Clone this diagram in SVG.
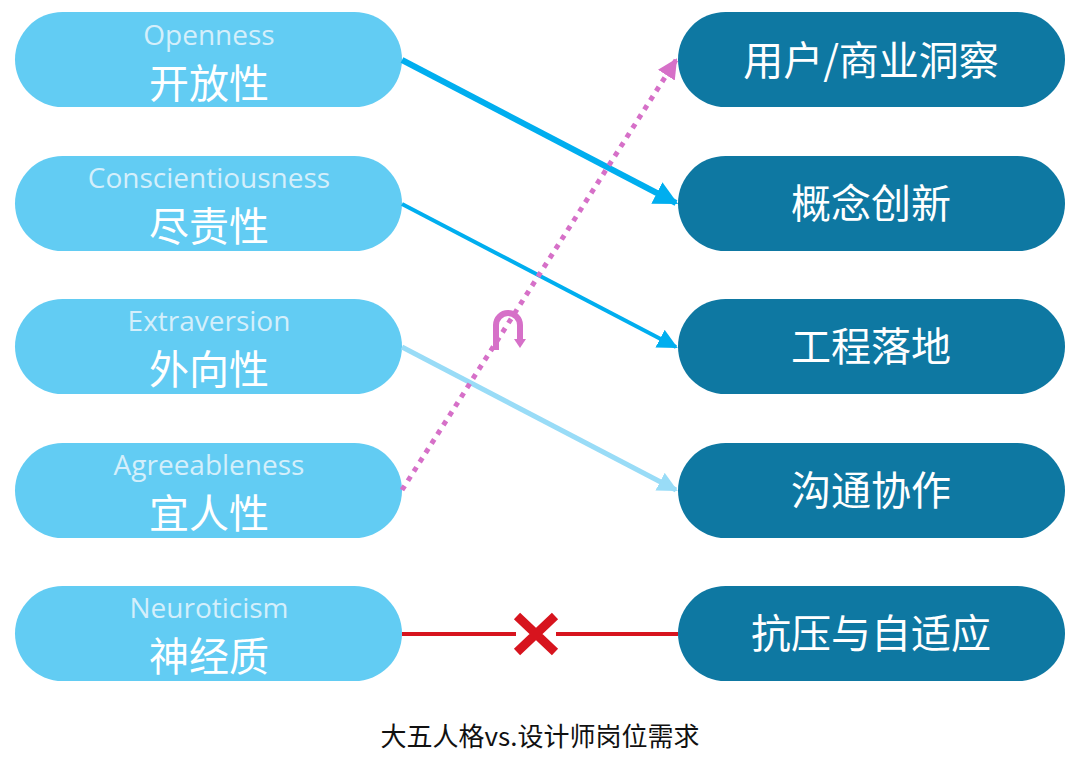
<svg xmlns="http://www.w3.org/2000/svg" width="1080" height="772" viewBox="0 0 1080 772">
<style>
.l{fill:#62ccf3}.r{fill:#0e78a2}
.en{font-family:"Open Sans","Liberation Sans",sans-serif;font-size:28px;fill:#d4effb;text-anchor:middle}
.zh{font-family:"Noto Sans CJK SC",sans-serif;font-size:40px;fill:#fff;text-anchor:middle}
</style>
<defs>
<marker id="a1" viewBox="0 0 10 10" refX="9" refY="5" markerWidth="4" markerHeight="4" orient="auto" markerUnits="strokeWidth"><path d="M0,0L10,5L0,10z" fill="#00aeef"/></marker>
<marker id="a2" viewBox="0 0 10 10" refX="9" refY="5" markerWidth="5" markerHeight="5" orient="auto" markerUnits="strokeWidth"><path d="M0,0L10,5L0,10z" fill="#00aeef"/></marker>
<marker id="a3" viewBox="0 0 10 10" refX="9" refY="5" markerWidth="4" markerHeight="4" orient="auto" markerUnits="strokeWidth"><path d="M0,0L10,5L0,10z" fill="#99dcf7"/></marker>
<marker id="a4" viewBox="0 0 10 10" refX="9" refY="5" markerWidth="4" markerHeight="4" orient="auto" markerUnits="strokeWidth"><path d="M0,0L10,5L0,10z" fill="#d670c8"/></marker>
</defs>
<rect width="1080" height="772" fill="#fff"/>
<g id="n1"><rect class="l" x="15" y="12" width="387" height="95" rx="47.5"/><text class="en" x="209" y="45">Openness</text><text class="zh" x="209" y="98">开放性</text></g>
<g id="n2"><rect class="l" x="15" y="156" width="387" height="95" rx="47.5"/><text class="en" x="209" y="188">Conscientiousness</text><text class="zh" x="209" y="241">尽责性</text></g>
<g id="n3"><rect class="l" x="15" y="299" width="387" height="95" rx="47.5"/><text class="en" x="209" y="331">Extraversion</text><text class="zh" x="209" y="384">外向性</text></g>
<g id="n4"><rect class="l" x="15" y="443" width="387" height="95" rx="47.5"/><text class="en" x="209" y="475">Agreeableness</text><text class="zh" x="209" y="528">宜人性</text></g>
<g id="n5"><rect class="l" x="15" y="586" width="387" height="95" rx="47.5"/><text class="en" x="209" y="618">Neuroticism</text><text class="zh" x="209" y="671">神经质</text></g>
<g id="m1"><rect class="r" x="678" y="12" width="387" height="95" rx="47.5"/><text class="zh" x="871" y="75">用户/商业洞察</text></g>
<g id="m2"><rect class="r" x="678" y="156" width="387" height="95" rx="47.5"/><text class="zh" x="871" y="218">概念创新</text></g>
<g id="m3"><rect class="r" x="678" y="299" width="387" height="95" rx="47.5"/><text class="zh" x="871" y="361">工程落地</text></g>
<g id="m4"><rect class="r" x="678" y="443" width="387" height="95" rx="47.5"/><text class="zh" x="871" y="505">沟通协作</text></g>
<g id="m5"><rect class="r" x="678" y="586" width="387" height="95" rx="47.5"/><text class="zh" x="871" y="648">抗压与自适应</text></g>
<g id="connectors" fill="none">
<line x1="402" y1="60" x2="676" y2="203" stroke="#00aeef" stroke-width="6" marker-end="url(#a1)"/>
<line x1="402" y1="204" x2="676" y2="347" stroke="#00aeef" stroke-width="4" marker-end="url(#a2)"/>
<line x1="402" y1="347" x2="676" y2="490" stroke="#99dcf7" stroke-width="5" marker-end="url(#a3)"/>
<line x1="402" y1="490" x2="676" y2="60" stroke="#d670c8" stroke-width="5" stroke-dasharray="5 6" marker-end="url(#a4)"/>
<path d="M496,350V325a12,12 0 0 1 24,0V340" stroke="#d670c8" stroke-width="6"/>
<path d="M514,339h12l-6,9z" fill="#d670c8"/>
<line x1="402" y1="634" x2="516" y2="634" stroke="#d7141e" stroke-width="4"/>
<line x1="556" y1="634" x2="678" y2="634" stroke="#d7141e" stroke-width="4"/>
<path d="M517,616L555,652M555,616L517,652" stroke="#d7141e" stroke-width="9"/>
</g>
<text x="540" y="746" font-family="'Noto Sans CJK SC',sans-serif" font-size="26" fill="#111" text-anchor="middle">大五人格vs.设计师岗位需求</text>
</svg>
